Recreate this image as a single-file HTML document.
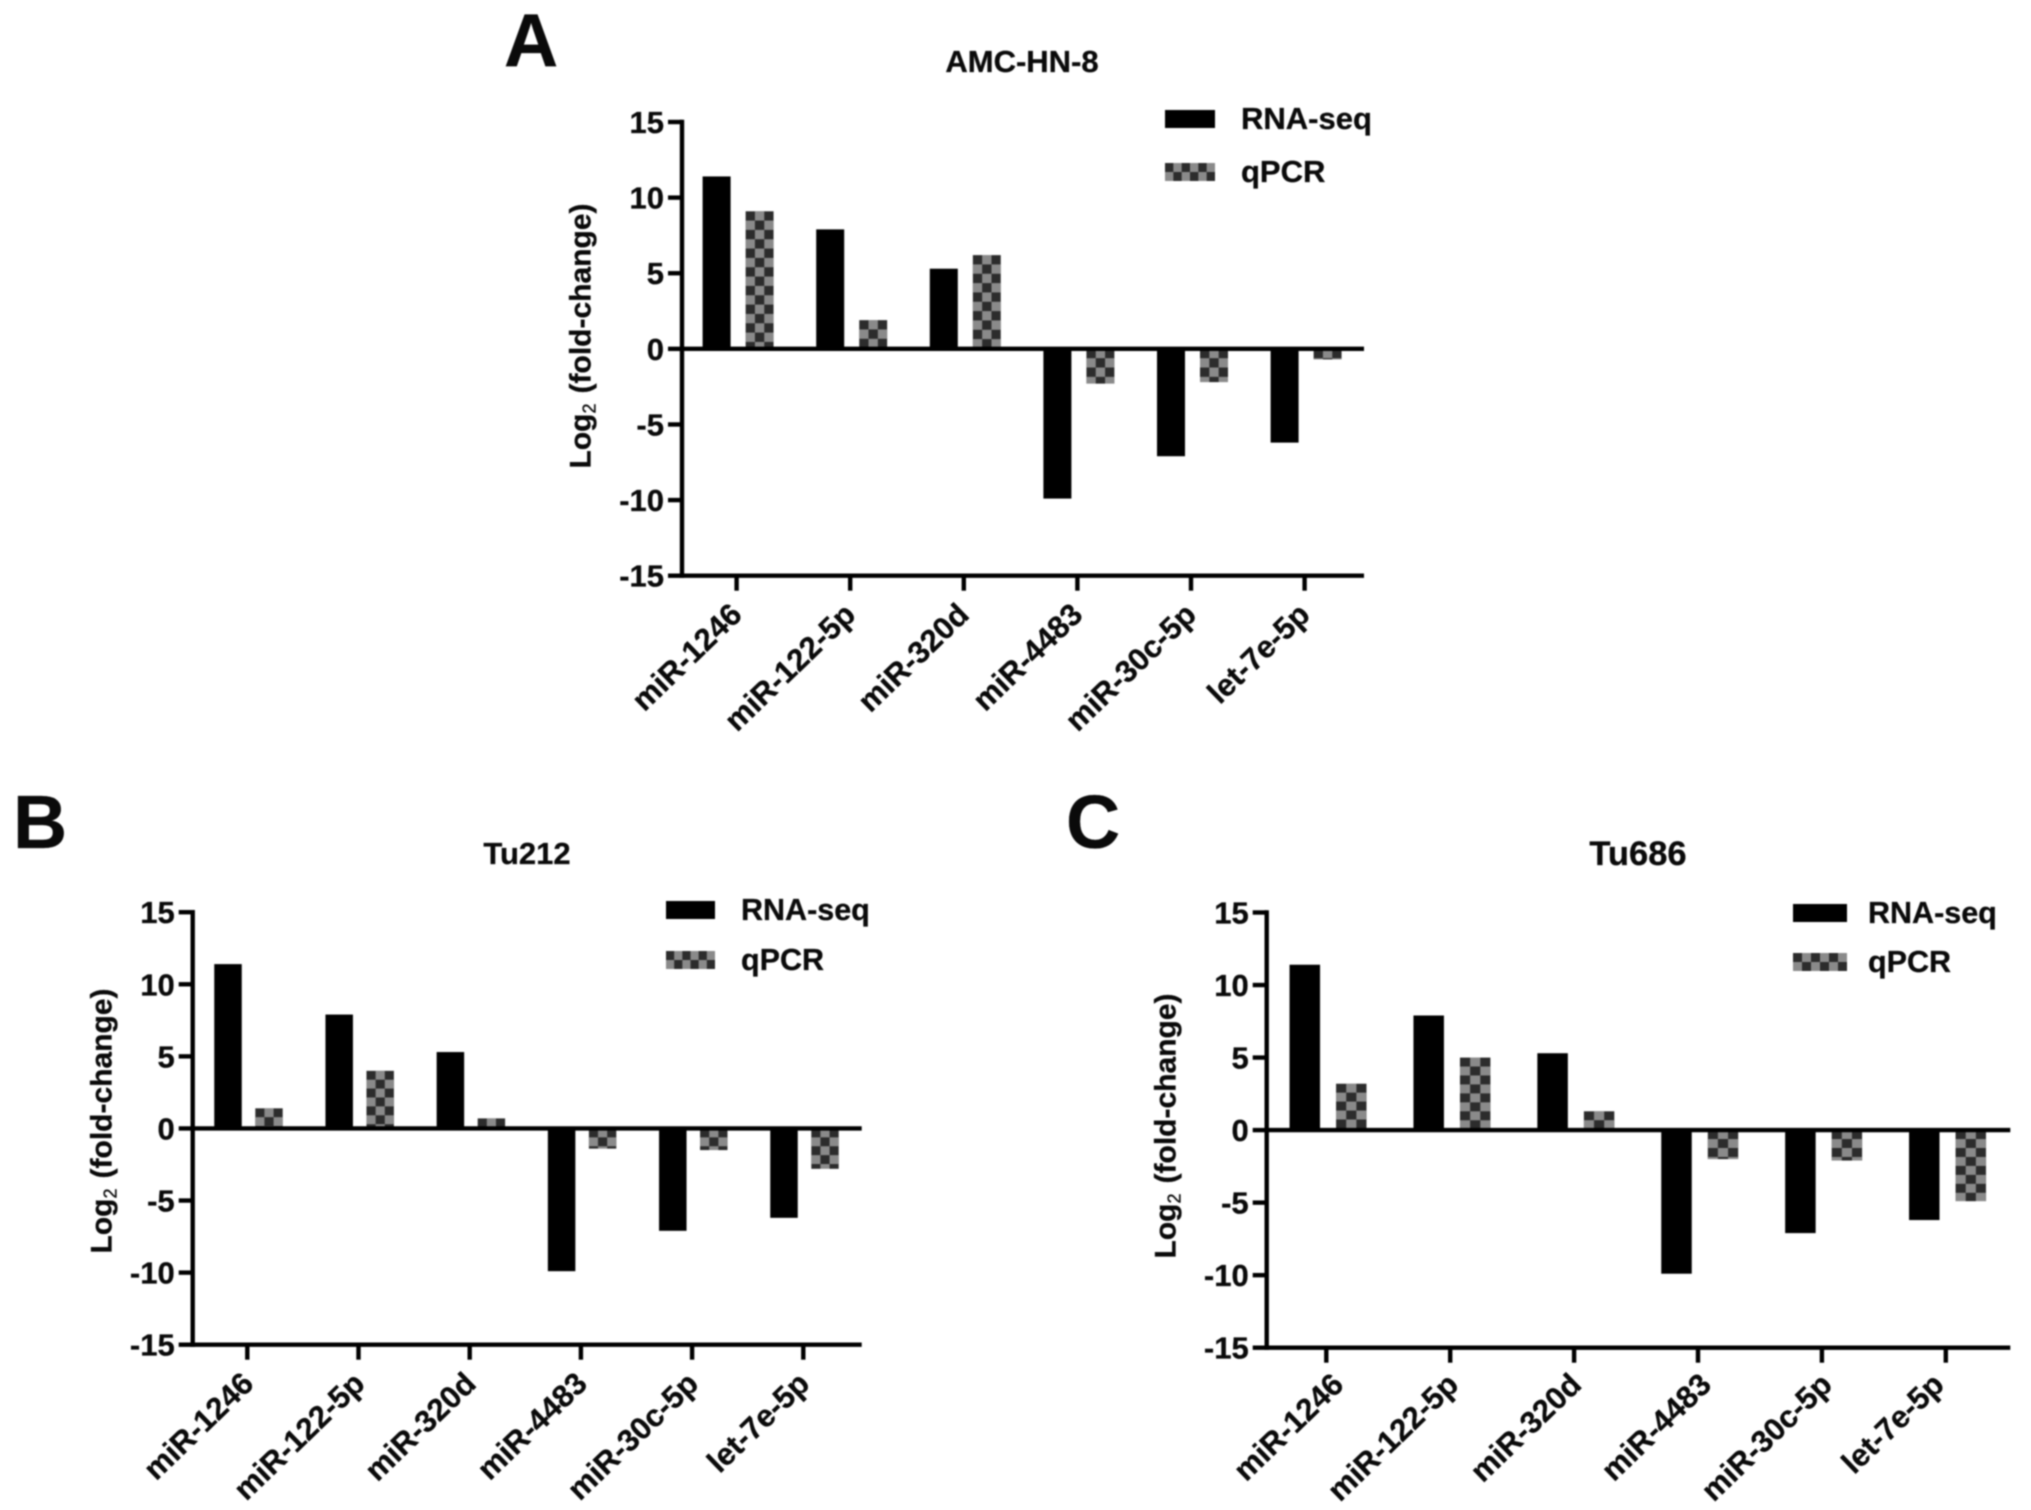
<!DOCTYPE html>
<html lang="en">
<head>
<meta charset="utf-8">
<title>Log2 fold-change of miRNAs: RNA-seq vs qPCR</title>
<style>
html,body{margin:0;padding:0;background:#fff;width:2031px;height:1510px;overflow:hidden}
svg{display:block;filter:blur(0.8px)}
text{font-family:"Liberation Sans",Arial,sans-serif;font-weight:700;fill:#0a0a0a;stroke:#0a0a0a;stroke-width:0.3px}
</style>
</head>
<body>
<svg id="figure" xmlns="http://www.w3.org/2000/svg" width="2031" height="1510" viewBox="0 0 2031 1510">
<defs id="defs"></defs>
</svg>
<script>
const categories = ["miR-1246","miR-122-5p","miR-320d","miR-4483","miR-30c-5p","let-7e-5p"];
const yTickLabels = [15,10,5,0,-5,-10,-15];
const rnaSeqValues = [11.4,7.9,5.3,-9.9,-7.1,-6.2];
const qpcrAmcHn8 = [9.1,1.9,6.2,-2.3,-2.2,-0.7];
const qpcrTu212 = [1.4,4.0,0.7,-1.4,-1.5,-2.8];
const qpcrTu686 = [3.2,5.0,1.3,-2.0,-2.1,-4.9];

const panels = [
  {id:"a",letter:"A",title:"AMC-HN-8",titleSize:31,qpcr:qpcrAmcHn8,axisX:682,top:122,bottom:575.7,right:1364,first:736.6,step:113.6,rnaOff:-20,qOff:23,barW:28,
   letterX:504,letterY:66,titleX:1022,titleY:72,ylabX:590.5,ylabY:336,legSwX:1165,legSwW:50,legY1:119,legY2:172,legTextX:1241,legSize:31,
   labelDx:[1,1,1,1,1,1],labelDy:0},
  {id:"b",letter:"B",title:"Tu212",titleSize:31,qpcr:qpcrTu212,axisX:192.7,top:912.2,bottom:1344.7,right:861.7,first:247.3,step:111.2,rnaOff:-19.3,qOff:21.7,barW:27.5,
   letterX:13,letterY:848,titleX:527,titleY:864,ylabX:111.5,ylabY:1121,legSwX:666,legSwW:49,legY1:910,legY2:960,legTextX:741,legSize:30.5,
   labelDx:[2,2,2,2,2,2],labelDy:0},
  {id:"c",letter:"C",title:"Tu686",titleSize:34.5,qpcr:qpcrTu686,axisX:1266.7,top:912.5,bottom:1347.7,right:2010.3,first:1326.3,step:123.9,rnaOff:-21.5,qOff:25,barW:30.5,
   letterX:1066,letterY:848,titleX:1638,titleY:865,ylabX:1175.5,ylabY:1126,legSwX:1793,legSwW:54,legY1:913,legY2:962,legTextX:1868,legSize:30.5,
   labelDx:[13,4,3,9,6,-6],labelDy:-2}
];

const SVGNS = "http://www.w3.org/2000/svg";
const figure = document.getElementById("figure");
const defs = document.getElementById("defs");

function makeLine(parent,x1,y1,x2,y2,w){
  const el = document.createElementNS(SVGNS,"line");
  el.setAttribute("x1",x1);
  el.setAttribute("y1",y1);
  el.setAttribute("x2",x2);
  el.setAttribute("y2",y2);
  el.setAttribute("stroke","#000");
  el.setAttribute("stroke-width",w);
  parent.appendChild(el);
  return el;
}
function makeRect(parent,x,y,w,h,fill){
  const el = document.createElementNS(SVGNS,"rect");
  el.setAttribute("x",x);
  el.setAttribute("y",y);
  el.setAttribute("width",w);
  el.setAttribute("height",h);
  el.setAttribute("fill",fill);
  parent.appendChild(el);
  return el;
}
function makeText(parent,x,y,str,size,anchor){
  const el = document.createElementNS(SVGNS,"text");
  el.setAttribute("x",x);
  el.setAttribute("y",y);
  el.setAttribute("font-size",size);
  el.setAttribute("text-anchor",anchor);
  el.textContent = str;
  parent.appendChild(el);
  return el;
}
function makeChecker(id,cellW,cellH){
  const pat = document.createElementNS(SVGNS,"pattern");
  pat.setAttribute("id",id);
  pat.setAttribute("patternUnits","userSpaceOnUse");
  pat.setAttribute("width",cellW*2);
  pat.setAttribute("height",cellH*2);
  makeRect(pat,0,0,cellW*2,cellH*2,"#8a8a8a");
  makeRect(pat,0,0,cellW,cellH,"#2c2c2c");
  makeRect(pat,cellW,cellH,cellW,cellH,"#2c2c2c");
  defs.appendChild(pat);
}

panels.forEach(function(p){
  const yScale = function(v){ return p.bottom - (v + 15) / 30 * (p.bottom - p.top); };
  const xScale = function(i){ return p.first + i * p.step; };
  const zero = yScale(0);
  const patternId = "checker-" + p.id;
  makeChecker(patternId,p.barW/3,(p.bottom-p.top)/48.6);
  const legendPatternId = "legend-checker-" + p.id;
  makeChecker(legendPatternId,p.legSwW/6,9);

  const g = document.createElementNS(SVGNS,"g");
  
  
  figure.appendChild(g);

  const letter = makeText(g,p.letterX,p.letterY,p.letter,75,"start");
  
  

  const title = makeText(g,p.titleX,p.titleY,p.title,p.titleSize,"middle");
  
  

  categories.forEach(function(cat,i){
    const v1 = rnaSeqValues[i];
    const bar1 = makeRect(g,xScale(i)+p.rnaOff-p.barW/2,Math.min(yScale(v1),zero),p.barW,Math.abs(yScale(v1)-zero),"#000");
    
    
    const v2 = p.qpcr[i];
    const barTop = Math.min(yScale(v2),zero);
    const bar2 = makeRect(g,0,0,p.barW,Math.abs(yScale(v2)-zero),"url(#" + patternId + ")");
    bar2.setAttribute("transform","translate(" + (xScale(i)+p.qOff-p.barW/2) + "," + barTop + ")");
    
    
  });

  const yAxis = makeLine(g,p.axisX,p.top-2.2,p.axisX,p.bottom+2.2,4.4);
  
  
  const xBase = makeLine(g,p.axisX,p.bottom,p.right,p.bottom,4.4);
  
  
  const zeroLine = makeLine(g,p.axisX,zero,p.right,zero,4.4);
  
  

  yTickLabels.forEach(function(t){
    const y = yScale(t);
    const tick = makeLine(g,p.axisX-14,y,p.axisX,y,4.4);
    
    
    const label = makeText(g,p.axisX-18,y+11,String(t),31,"end");
    
    
  });

  categories.forEach(function(cat,i){
    const x = xScale(i);
    const tick = makeLine(g,x,p.bottom,x,p.bottom+15,4.4);
    
    
    const label = makeText(g,0,0,cat,31,"end");
    label.setAttribute("transform","translate(" + (x+6+p.labelDx[i]) + "," + (p.bottom+41+p.labelDy) + ") rotate(-44)");
    
    
  });

  const yTitle = makeText(g,0,0,"",30,"middle");
  yTitle.setAttribute("transform","translate(" + p.ylabX + "," + p.ylabY + ") rotate(-90)");
  
  
  const t1 = document.createElementNS(SVGNS,"tspan");
  t1.textContent = "Log";
  yTitle.appendChild(t1);
  const t2 = document.createElementNS(SVGNS,"tspan");
  t2.setAttribute("font-size","18");
  t2.setAttribute("font-weight","400");
  t2.setAttribute("dy","5");
  t2.textContent = "2";
  yTitle.appendChild(t2);
  const t3 = document.createElementNS(SVGNS,"tspan");
  t3.setAttribute("dy","-5");
  t3.setAttribute("dx","10");
  t3.textContent = "(fold-change)";
  yTitle.appendChild(t3);

  const legendG = document.createElementNS(SVGNS,"g");
  
  
  g.appendChild(legendG);
  const sw1 = makeRect(legendG,p.legSwX,p.legY1-9,p.legSwW,18,"#000");
  
  
  const lt1 = makeText(legendG,p.legTextX,p.legY1+10,"RNA-seq",p.legSize,"start");
  
  
  const sw2 = makeRect(legendG,0,0,p.legSwW,18,"url(#" + legendPatternId + ")");
  sw2.setAttribute("transform","translate(" + p.legSwX + "," + (p.legY2-9) + ")");
  
  
  const lt2 = makeText(legendG,p.legTextX,p.legY2+10,"qPCR",p.legSize,"start");
  
  
});
</script>
</body>
</html>
